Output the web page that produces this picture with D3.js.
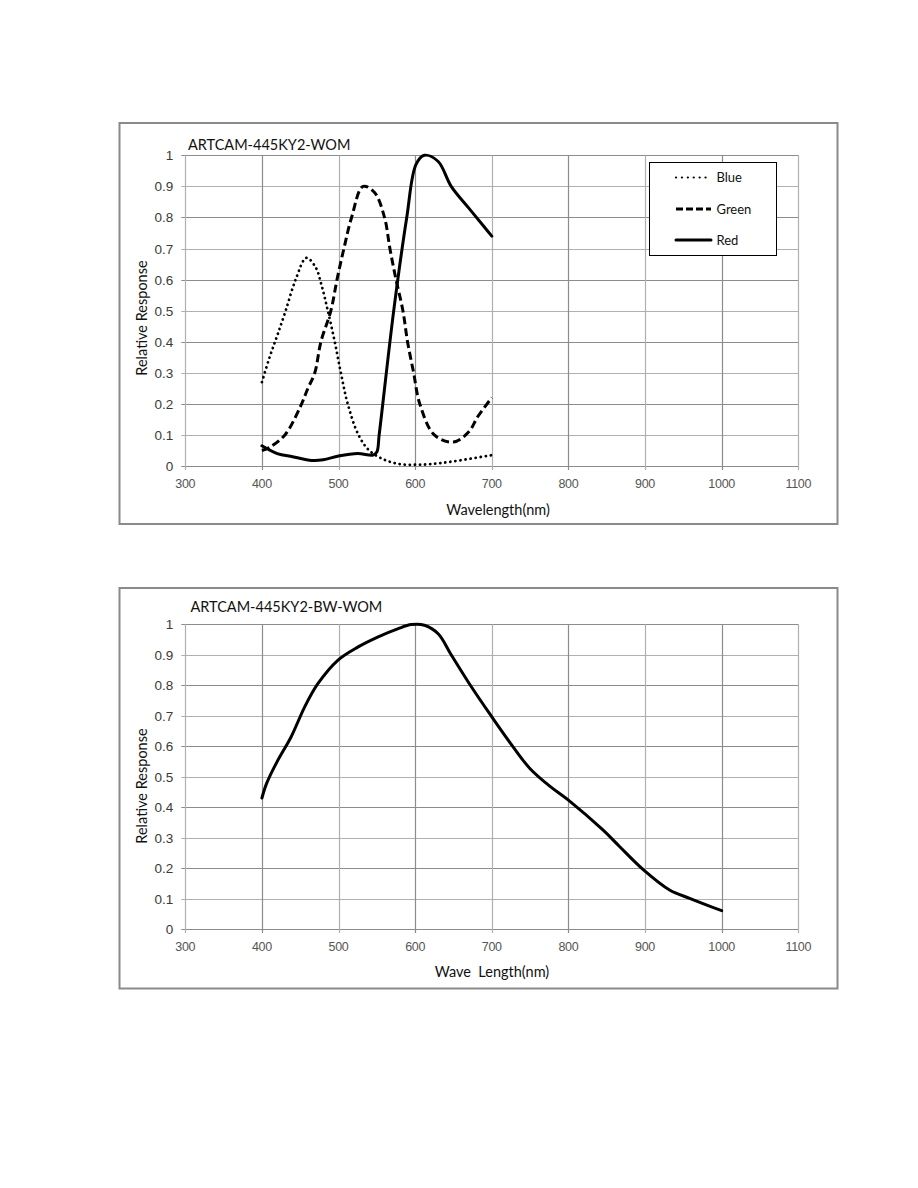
<!DOCTYPE html>
<html><head><meta charset="utf-8">
<script src="https://cdn.jsdelivr.net/npm/d3@7"></script>
<style>html,body{margin:0;padding:0;background:#fff}</style>
</head><body>
<script>
// ---- data ----
const xTicks = [300, 400, 500, 600, 700, 800, 900, 1000, 1100];
const yTicks = [0, 0.1, 0.2, 0.3, 0.4, 0.5, 0.6, 0.7, 0.8, 0.9, 1];

const blueWl  = [400, 410, 420, 431, 444, 458, 470, 478, 486, 495, 503, 512, 526, 540, 560, 580, 600, 620, 650, 700];
const blueVal = [0.27, 0.35, 0.42, 0.50, 0.60, 0.67, 0.64, 0.58, 0.50, 0.40, 0.30, 0.20, 0.10, 0.05, 0.02, 0.006, 0.004, 0.006, 0.015, 0.035];

const greenWl  = [400, 410, 430, 450, 460, 469, 477, 490, 498, 507, 517, 532, 547, 560, 567, 575, 584, 590, 598, 606, 625, 650, 670, 682, 700];
const greenVal = [0.05, 0.06, 0.10, 0.19, 0.25, 0.30, 0.40, 0.50, 0.60, 0.70, 0.80, 0.90, 0.88, 0.80, 0.70, 0.60, 0.50, 0.40, 0.30, 0.20, 0.10, 0.077, 0.11, 0.16, 0.22];

const redWl  = [400, 420, 440, 465, 480, 500, 525, 545, 550, 553, 572, 589, 601, 612, 630, 647, 670, 690, 700];
const redVal = [0.065, 0.04, 0.03, 0.018, 0.02, 0.032, 0.04, 0.035, 0.045, 0.1, 0.5, 0.8, 0.97, 1.0, 0.98, 0.90, 0.83, 0.77, 0.74];

const bwWl  = [400, 406, 420, 438, 456, 473, 499, 525, 551, 578, 595, 612, 630, 647, 672, 699, 728, 750, 776, 800, 845, 867, 898, 932, 959, 1000];
const bwVal = [0.43, 0.477, 0.55, 0.63, 0.73, 0.805, 0.882, 0.925, 0.958, 0.986, 0.999, 0.997, 0.969, 0.90, 0.80, 0.70, 0.597, 0.526, 0.468, 0.423, 0.325, 0.27, 0.194, 0.128, 0.10, 0.06];

const legendLabels = ["Blue", "Green", "Red"];
const titles = ["ARTCAM-445KY2-WOM", "ARTCAM-445KY2-BW-WOM"];
const xLabels = ["Wavelength(nm)", "Wave  Length(nm)"];
const yLabel = "Relative Response";

// ---- drawing ----
const svg = d3.select("body").append("svg").attr("width", 918).attr("height", 1188);
svg.append("rect").attr("width", 918).attr("height", 1188).attr("fill", "#fff");

const styles = {
  dotted: {w: 2.8, dash: "0.1,5", cap: "round"},
  dashed: {w: 3, dash: "8,4", cap: "butt"},
  solid:  {w: 3, dash: null, cap: "round"}
};

function drawChart(cfg) {
  const g = svg.append("g");
  g.append("rect").attr("x", 119.5).attr("y", cfg.frameTop).attr("width", 718)
    .attr("height", cfg.frameH).attr("fill", "#fff").attr("stroke", "#8a8a8a").attr("stroke-width", 2);

  const x = d3.scaleLinear().domain([300, 1100]).range([185.3, 798.3]);
  const y = d3.scaleLinear().domain([0, 1]).range([cfg.y0, cfg.y1]);

  // grid
  g.append("g").selectAll("line").data(yTicks).join("line")
    .attr("x1", x(300) - 4).attr("x2", x(1100))
    .attr("y1", d => Math.round(y(d)) + 0.5).attr("y2", d => Math.round(y(d)) + 0.5)
    .attr("stroke", (d, i) => i % 2 === 0 ? "#8c8c8c" : "#b0b0b0").attr("stroke-width", 1.2);
  g.append("g").selectAll("line").data(xTicks).join("line")
    .attr("y1", y(1)).attr("y2", y(0) + 4)
    .attr("x1", d => Math.round(x(d)) + 0.5).attr("x2", d => Math.round(x(d)) + 0.5)
    .attr("stroke", (d, i) => i % 2 === 1 ? "#8c8c8c" : "#b0b0b0").attr("stroke-width", 1.2);

  // tick labels
  g.append("g").selectAll("text").data(yTicks).join("text")
    .attr("x", x(300) - 12).attr("y", d => y(d) + 5)
    .attr("text-anchor", "end").attr("font-family", "Liberation Sans, Arial, sans-serif")
    .attr("font-size", 13.5).attr("fill", "#3a3a3a").text(d => d3.format("")(d));
  g.append("g").selectAll("text").data(xTicks).join("text")
    .attr("x", d => x(d)).attr("y", y(0) + 22)
    .attr("text-anchor", "middle").attr("font-family", "Liberation Sans, Arial, sans-serif")
    .attr("font-size", 12.5).attr("fill", "#555").attr("letter-spacing", "-0.3").text(d => d);

  // title and axis labels
  g.append("text").attr("x", cfg.titleX).attr("y", cfg.titleY)
    .attr("font-family", "Lato, sans-serif").attr("font-size", 14.5).attr("fill", "#111").text(cfg.title);
  g.append("text").attr("x", cfg.xlabX).attr("y", cfg.xlabY).attr("text-anchor", "middle")
    .attr("font-family", "Lato, sans-serif").attr("font-size", 14.5).attr("fill", "#111")
    .attr("xml:space", "preserve").text(cfg.xlab);
  g.append("text").attr("transform", `translate(147,${cfg.ylabC}) rotate(-90)`).attr("text-anchor", "middle")
    .attr("font-family", "Lato, sans-serif").attr("font-size", 14.5).attr("fill", "#111").text(yLabel);

  const line = d3.line().x(d => x(d[0])).y(d => y(d[1])).curve(d3.curveCatmullRom.alpha(0.5));
  cfg.series.forEach(s => {
    const st = styles[s.style];
    g.append("path").datum(d3.zip(s.wl, s.val)).attr("d", line)
      .attr("fill", "none").attr("stroke", "#000").attr("stroke-width", st.w)
      .attr("stroke-linecap", st.cap).attr("stroke-linejoin", "round")
      .attr("stroke-dasharray", st.dash);
  });

  if (cfg.legend) {
    const lg = g.append("g");
    lg.append("rect").attr("x", 649.5).attr("y", 162.5).attr("width", 127).attr("height", 93)
      .attr("fill", "#fff").attr("stroke", "#000").attr("stroke-width", 1);
    cfg.series.forEach((s, i) => {
      const st = styles[s.style];
      const yy = [177.5, 209, 240][i];
      lg.append("line").attr("x1", 676).attr("x2", 711).attr("y1", yy).attr("y2", yy)
        .attr("stroke", "#000").attr("stroke-width", s.style === "dotted" ? 2.2 : st.w)
        .attr("stroke-linecap", st.cap).attr("stroke-dasharray", s.style === "dashed" ? "7,3" : (s.style === "dotted" ? "0.1,5.8" : st.dash));
      lg.append("text").attr("x", 716.5).attr("y", yy + 4.5)
        .attr("font-family", "Lato, sans-serif").attr("font-size", 13).attr("fill", "#111").text(legendLabels[i]);
    });
  }
}

drawChart({
  frameTop: 123, frameH: 401, y0: 466, y1: 155.3,
  title: titles[0], titleX: 188, titleY: 150, xlab: xLabels[0], xlabX: 498, xlabY: 515, ylabC: 318,
  legend: true,
  series: [
    {wl: blueWl, val: blueVal, style: "dotted"},
    {wl: greenWl, val: greenVal, style: "dashed"},
    {wl: redWl, val: redVal, style: "solid"}
  ]
});
drawChart({
  frameTop: 588, frameH: 400.5, y0: 929, y1: 624.3,
  title: titles[1], titleX: 190.5, titleY: 612, xlab: xLabels[1], xlabX: 492, xlabY: 977, ylabC: 786,
  legend: false,
  series: [{wl: bwWl, val: bwVal, style: "solid"}]
});
</script>
</body></html>
